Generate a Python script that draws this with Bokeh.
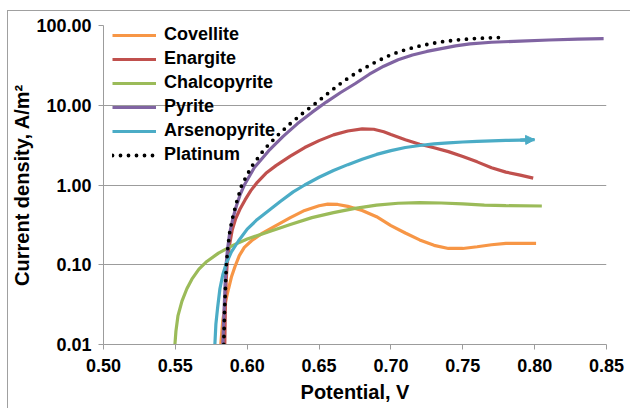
from bokeh.plotting import figure
from bokeh.models import (FixedTicker, NumeralTickFormatter, Legend, LegendItem,
                          Arrow, NormalHead, Range1d)
from bokeh.embed import file_html
from bokeh.resources import INLINE

# ---- data ----
cov_x = [0.5816, 0.583, 0.585, 0.587, 0.589, 0.5915, 0.5945, 0.598, 0.603, 0.61,
         0.62, 0.63, 0.64, 0.65, 0.656, 0.663, 0.67, 0.68, 0.69, 0.70,
         0.71, 0.72, 0.73, 0.74, 0.75, 0.76, 0.77, 0.78, 0.79, 0.801]
cov_y = [0.010, 0.020, 0.035, 0.050, 0.070, 0.095, 0.130, 0.165, 0.200, 0.245,
         0.310, 0.390, 0.480, 0.550, 0.575, 0.570, 0.540, 0.480, 0.400, 0.310,
         0.250, 0.205, 0.175, 0.160, 0.160, 0.168, 0.178, 0.185, 0.186, 0.185]

ena_x = [0.5844, 0.5848, 0.5853, 0.586, 0.5875, 0.5895, 0.592, 0.595, 0.5985, 0.6025,
         0.607, 0.613, 0.62, 0.63, 0.64, 0.65, 0.66, 0.67, 0.68, 0.688,
         0.695, 0.70, 0.71, 0.72, 0.73, 0.74, 0.75, 0.76, 0.77, 0.78,
         0.79, 0.799]
ena_y = [0.010, 0.030, 0.060, 0.100, 0.170, 0.270, 0.380, 0.500, 0.650, 0.850,
         1.08, 1.40, 1.75, 2.30, 2.95, 3.60, 4.25, 4.75, 5.05, 5.00,
         4.65, 4.30, 3.70, 3.25, 2.93, 2.62, 2.28, 1.95, 1.65, 1.45,
         1.33, 1.22]

chal_x = [0.5497, 0.5504, 0.5518, 0.5546, 0.558, 0.5615, 0.5664, 0.5719, 0.58, 0.59,
          0.60, 0.615, 0.63, 0.645, 0.66, 0.675, 0.69, 0.705, 0.72, 0.735,
          0.75, 0.765, 0.78, 0.805]
chal_y = [0.010, 0.0147, 0.0228, 0.035, 0.050, 0.066, 0.088, 0.110, 0.140, 0.175,
          0.210, 0.260, 0.320, 0.390, 0.450, 0.510, 0.560, 0.590, 0.600, 0.595,
          0.580, 0.560, 0.550, 0.545]

pyr_x = [0.583, 0.5837, 0.5844, 0.5851, 0.5862, 0.5878, 0.590, 0.5925, 0.595, 0.598,
         0.605, 0.615, 0.625, 0.635, 0.645, 0.655, 0.665, 0.675, 0.685, 0.695,
         0.705, 0.715, 0.725, 0.735, 0.745, 0.755, 0.770, 0.790, 0.810, 0.830,
         0.848]
pyr_y = [0.010, 0.022, 0.045, 0.090, 0.150, 0.250, 0.380, 0.550, 0.750, 1.00,
         1.66, 2.69, 4.07, 5.89, 8.13, 10.96, 14.45, 18.6, 24.5, 30.9,
         37.2, 42.7, 47.3, 51.3, 55.6, 58.9, 61.7, 63.8, 65.8, 67.3,
         68.5]

ars_x = [0.5775, 0.5782, 0.5795, 0.581, 0.583, 0.5855, 0.589, 0.594, 0.60, 0.607,
         0.615, 0.623, 0.632, 0.64, 0.65, 0.66, 0.67, 0.68, 0.69, 0.70,
         0.71, 0.72, 0.73, 0.74, 0.75, 0.76, 0.77, 0.78, 0.79, 0.80]
ars_y = [0.010, 0.018, 0.030, 0.050, 0.075, 0.105, 0.145, 0.200, 0.280, 0.370,
         0.480, 0.620, 0.820, 1.00, 1.25, 1.52, 1.80, 2.10, 2.42, 2.70,
         2.95, 3.13, 3.28, 3.38, 3.46, 3.53, 3.58, 3.62, 3.66, 3.70]

pt_x = [0.5837, 0.5842, 0.5848, 0.5855, 0.5866, 0.588, 0.590, 0.5925, 0.5962, 0.603,
        0.612, 0.621, 0.630, 0.640, 0.648, 0.657, 0.667, 0.677, 0.687, 0.697,
        0.707, 0.717, 0.727, 0.737, 0.747, 0.757, 0.768, 0.780]
pt_y = [0.010, 0.025, 0.050, 0.100, 0.170, 0.270, 0.400, 0.600, 1.00, 1.70,
        2.82, 4.17, 5.89, 8.32, 10.7, 14.5, 20.0, 26.3, 33.1, 40.7,
        47.9, 53.7, 58.9, 63.1, 66.1, 68.4, 70.0, 71.1]

x_ticks = [0.50, 0.55, 0.60, 0.65, 0.70, 0.75, 0.80, 0.85]
y_ticks = [0.01, 0.1, 1, 10, 100]

FONT = "Liberation Sans"
GREY = "#9c9c9c"

p = figure(width=623, height=398, y_axis_type="log",
           x_range=Range1d(0.50, 0.85), y_range=Range1d(0.01, 100),
           output_backend="svg", toolbar_location=None,
           min_border_left=93, min_border_right=25, min_border_top=14, min_border_bottom=65)
p.margin = (10, 0, 0, 7)
p.styles = {"border-left": "1px solid #a0a0a0", "border-top": "1px solid #a0a0a0"}
p.outline_line_color = None
p.background_fill_color = "white"
p.border_fill_color = "white"

p.xgrid.visible = False
p.ygrid.grid_line_color = GREY
p.ygrid.grid_line_width = 1
p.ygrid.ticker = FixedTicker(ticks=y_ticks)

for ax in (p.xaxis[0], p.yaxis[0]):
    ax.axis_line_color = GREY
    ax.major_tick_line_color = GREY
    ax.major_tick_out = 5
    ax.major_tick_in = 0
    ax.minor_tick_line_color = None
    ax.major_label_text_font = FONT
    ax.major_label_text_font_style = "bold"
    ax.major_label_text_font_size = "18px"
    ax.major_label_text_color = "black"
    ax.axis_label_text_font = FONT
    ax.axis_label_text_font_style = "bold"
    ax.axis_label_text_font_size = "20px"
    ax.axis_label_text_color = "black"

p.xaxis.ticker = FixedTicker(ticks=x_ticks)
p.xaxis.formatter = NumeralTickFormatter(format="0.00")
p.xaxis.major_label_standoff = 9
p.xaxis.axis_label = "Potential, V"
p.xaxis.axis_label_standoff = 6

p.yaxis.ticker = FixedTicker(ticks=y_ticks)
p.yaxis.formatter = NumeralTickFormatter(format="0.00")
p.yaxis.major_label_standoff = 7
p.yaxis.axis_label = "Current density, A/m\u00b2"
p.yaxis.axis_label_standoff = 0

W = 3.2
r_cov = p.line(cov_x, cov_y, line_color="#F79646", line_width=W)
r_ena = p.line(ena_x, ena_y, line_color="#C0504D", line_width=W)
r_chal = p.line(chal_x, chal_y, line_color="#9BBB59", line_width=W)
r_pyr = p.line(pyr_x, pyr_y, line_color="#8064A2", line_width=W)
r_ars = p.line(ars_x, ars_y, line_color="#4BACC6", line_width=W)
r_pt = p.line(pt_x, pt_y, line_color="black", line_width=3.8, line_dash="0 8", line_cap="round")

p.add_layout(Arrow(end=NormalHead(size=9, fill_color="#4BACC6", line_color="#4BACC6"),
                   x_start=ars_x[-2], y_start=ars_y[-2], x_end=ars_x[-1], y_end=ars_y[-1],
                   line_color="#4BACC6", line_width=W))

legend = Legend(items=[
    LegendItem(label="Covellite", renderers=[r_cov]),
    LegendItem(label="Enargite", renderers=[r_ena]),
    LegendItem(label="Chalcopyrite", renderers=[r_chal]),
    LegendItem(label="Pyrite", renderers=[r_pyr]),
    LegendItem(label="Arsenopyrite", renderers=[r_ars]),
    LegendItem(label="Platinum", renderers=[r_pt]),
], location=(5, 175))
legend.background_fill_alpha = 0
legend.border_line_alpha = 0
legend.padding = 4
legend.margin = 0
legend.spacing = 3
legend.glyph_width = 44
legend.glyph_height = 20
legend.label_height = 20
legend.label_standoff = 8
legend.label_text_font = FONT
legend.label_text_font_style = "bold"
legend.label_text_font_size = "18px"
legend.label_text_color = "black"
p.add_layout(legend)

open("out.html", "w").write(file_html(p, INLINE))
